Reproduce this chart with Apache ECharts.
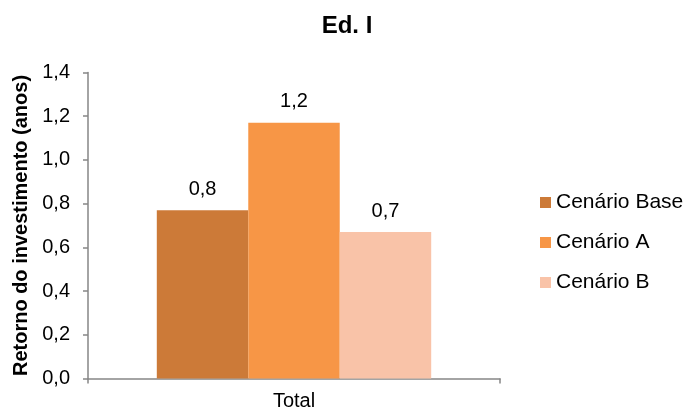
<!DOCTYPE html>
<html>
<head>
<meta charset="utf-8">
<script src="https://cdn.jsdelivr.net/npm/echarts@6/dist/echarts.min.js"></script>
<style>
  html, body { margin: 0; padding: 0; background: #fff; }
  #chart { width: 688px; height: 412px; }
</style>
</head>
<body>
<div id="chart"></div>
<script>
// Payback period of the investment per scenario (years)
const categories = ['Total'];
const seriesNames = ['Cenário Base', 'Cenário A', 'Cenário B'];
const seriesColors = ['#CC7A38', '#F79646', '#F9C3A8'];
const cenarioBase = [0.77];
const cenarioA = [1.17];
const cenarioB = [0.67];
const yTicks = { min: 0, max: 1.4, interval: 0.2 };

const FONT = '"Liberation Sans", Arial, sans-serif';
const AXIS_COLOR = '#868686';
const fmt = v => Number(v).toFixed(1).replace('.', ',');

const seriesData = [cenarioBase, cenarioA, cenarioB];

const chart = echarts.init(document.getElementById('chart'), null, { renderer: 'canvas' });
chart.setOption({
  animation: false,
  backgroundColor: '#ffffff',
  textStyle: { fontFamily: FONT },
  title: {
    text: 'Ed. I',
    left: 342,
    textAlign: 'center',
    top: 9,
    textStyle: { fontFamily: FONT, fontSize: 24, fontWeight: 'bold', color: '#000' }
  },
  legend: {
    orient: 'vertical',
    left: 535,
    top: 187,
    itemWidth: 11,
    itemHeight: 11,
    itemGap: 19,
    icon: 'rect',
    textStyle: { fontFamily: FONT, fontSize: 21, color: '#000' },
    data: seriesNames
  },
  grid: {
    left: 88, right: 188, top: 72.5, bottom: 33.5,
    containLabel: false,
    outerBoundsMode: 'none'
  },
  xAxis: {
    type: 'category',
    data: categories,
    axisLine: { show: true, lineStyle: { color: AXIS_COLOR, width: 1.5 } },
    axisTick: { show: true, length: 5, lineStyle: { color: AXIS_COLOR, width: 1.5 } },
    axisLabel: { fontFamily: FONT, fontSize: 20, color: '#000', margin: 13 },
    splitLine: { show: false }
  },
  yAxis: {
    type: 'value',
    min: yTicks.min,
    max: yTicks.max,
    interval: yTicks.interval,
    name: 'Retorno do investimento (anos)',
    nameLocation: 'middle',
    nameGap: 56,
    nameRotate: 90,
    nameTextStyle: { fontFamily: FONT, fontSize: 20, fontWeight: 'bold', color: '#000' },
    axisLine: { show: true, lineStyle: { color: AXIS_COLOR, width: 1.5 } },
    axisTick: { show: true, length: 5, lineStyle: { color: AXIS_COLOR, width: 1.5 } },
    axisLabel: { fontFamily: FONT, fontSize: 20, color: '#000', margin: 18, formatter: fmt },
    splitLine: { show: false }
  },
  series: seriesNames.map((name, i) => ({
    name,
    type: 'bar',
    data: seriesData[i],
    barGap: '0%',
    barCategoryGap: '33.4%',
    itemStyle: { color: seriesColors[i] },
    label: {
      show: true,
      position: 'top',
      distance: 11,
      fontFamily: FONT,
      fontSize: 20,
      color: '#000',
      formatter: p => fmt(p.value)
    }
  }))
});
</script>
</body>
</html>
